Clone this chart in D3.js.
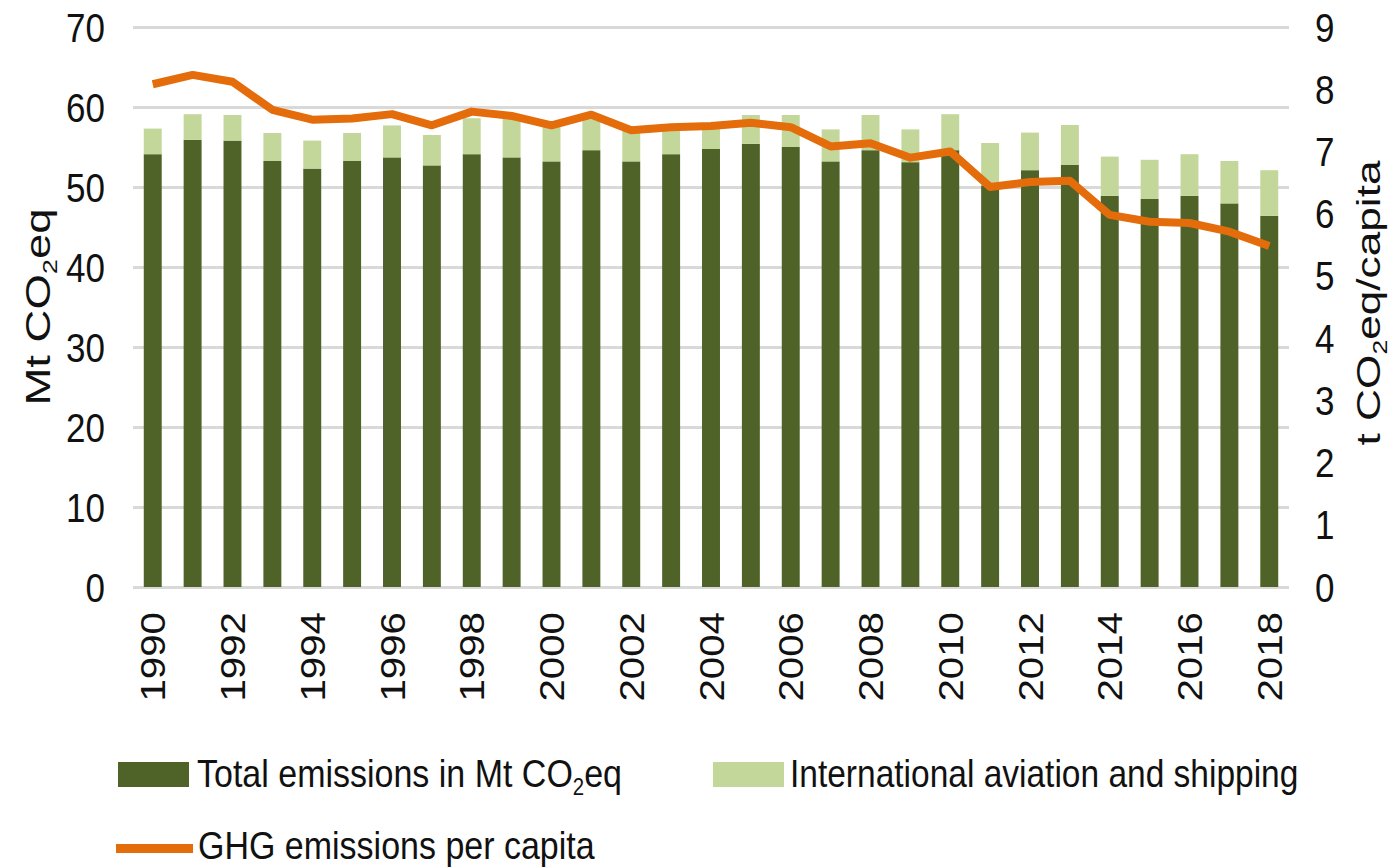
<!DOCTYPE html>
<html>
<head>
<meta charset="utf-8">
<script src="https://cdnjs.cloudflare.com/ajax/libs/d3/7.8.5/d3.min.js"></script>
<style>
    body { margin: 0; background: #fff; }
    text { font-family: "Liberation Sans", Arial, sans-serif; fill: #111; }
</style>
</head>
<body>
<div id="chart"></div>
<script>
/*
    Data
*/
var years = [1990, 1991, 1992, 1993, 1994, 1995, 1996, 1997, 1998, 1999,
    2000, 2001, 2002, 2003, 2004, 2005, 2006, 2007, 2008, 2009,
    2010, 2011, 2012, 2013, 2014, 2015, 2016, 2017, 2018];
var totalEmissions = [54.1, 55.9, 55.8, 53.25, 52.3, 53.25, 53.7, 52.7, 54.1, 53.7,
    53.2, 54.6, 53.2, 54.1, 54.75, 55.4, 55.0, 53.2, 54.6, 53.1,
    54.6, 50.2, 52.1, 52.75, 48.9, 48.5, 48.9, 47.95, 46.4];
var aviationShipping = [3.2, 3.2, 3.2, 3.5, 3.5, 3.5, 4.0, 3.8, 4.5, 4.8,
    4.4, 4.0, 3.8, 3.3, 3.0, 3.6, 4.0, 4.0, 4.4, 4.1,
    4.5, 5.3, 4.7, 5.0, 4.9, 4.9, 5.2, 5.3, 5.7];
var perCapita = [8.08, 8.23, 8.12, 7.67, 7.51, 7.53, 7.60, 7.42, 7.64, 7.57,
    7.42, 7.59, 7.34, 7.39, 7.41, 7.46, 7.39, 7.08, 7.13, 6.90,
    7.00, 6.43, 6.51, 6.53, 5.98, 5.87, 5.85, 5.71, 5.48];
var leftTicks = [0, 10, 20, 30, 40, 50, 60, 70];
var rightTicks = [0, 1, 2, 3, 4, 5, 6, 7, 8, 9];
var yearLabels = [1990, 1992, 1994, 1996, 1998, 2000, 2002, 2004, 2006, 2008,
    2010, 2012, 2014, 2016, 2018];

var width = 1391;
var height = 868;
var plot = { left: 133, right: 1289, top: 27, bottom: 587 };
var stretch = 1.15; // text in the picture is a bit taller than wide

var colors = {
    total: "#4F6228",
    aviation: "#C4D79B",
    line: "#E46C0A",
    grid: "#D9D9D9"
};

var svg = d3.select("#chart")
    .append("svg")
    .attr("width", width)
    .attr("height", height)

/*
    Scales
*/
var x = d3.scaleBand()
    .domain(years)
    .range([plot.left, plot.right])
    .paddingInner(0.55)
    .paddingOuter(0.27)

var yLeft = d3.scaleLinear()
    .domain([0, 70])
    .range([plot.bottom, plot.top])

var yRight = d3.scaleLinear()
    .domain([0, 9])
    .range([plot.bottom, plot.top])

/*
    Gridlines (drawn with the left axis, long ticks)
*/
var grid = svg.append("g")
    .attr("transform", "translate(" + plot.left + ",0)")
    .call(d3.axisLeft(yLeft)
        .tickValues(leftTicks)
        .tickSize(-(plot.right - plot.left))
        .tickFormat(""))
grid.select(".domain").remove()
grid.selectAll("line")
    .attr("stroke", colors.grid)
    .attr("stroke-width", 3)

/*
    Stacked bars
*/
var rows = years.map(function (y, i) {
    return { year: y, total: totalEmissions[i], aviation: aviationShipping[i] };
})
var stack = d3.stack().keys(["total", "aviation"])(rows)

svg.append("g")
    .selectAll("g")
    .data(stack)
    .enter().append("g")
    .attr("fill", function (d) { return colors[d.key]; })
    .selectAll("rect")
    .data(function (d) { return d; })
    .enter().append("rect")
    .attr("x", function (d) { return x(d.data.year); })
    .attr("width", x.bandwidth())
    .attr("y", function (d) { return yLeft(d[1]); })
    .attr("height", function (d) { return yLeft(d[0]) - yLeft(d[1]); })

/*
    Per capita line on the right scale
*/
var line = d3.line()
    .x(function (d, i) { return x(years[i]) + x.bandwidth() / 2; })
    .y(function (d) { return yRight(d); })

svg.append("path")
    .datum(perCapita)
    .attr("d", line)
    .attr("fill", "none")
    .attr("stroke", colors.line)
    .attr("stroke-width", 8)
    .attr("stroke-linejoin", "round")
    .attr("stroke-linecap", "butt")

/*
    Axes: only labels are shown
*/
var leftAxis = svg.append("g")
    .attr("transform", "translate(" + plot.left + ",0)")
    .call(d3.axisLeft(yLeft).tickValues(leftTicks).tickSize(0))
leftAxis.select(".domain").remove()
leftAxis.selectAll("text")
    .attr("x", null).attr("dy", null)
    .attr("text-anchor", "end")
    .attr("font-size", 35)
    .attr("transform", "translate(-28,14) scale(1," + stretch + ")")

var rightAxis = svg.append("g")
    .attr("transform", "translate(" + plot.right + ",0)")
    .call(d3.axisRight(yRight).tickValues(rightTicks).tickSize(0))
rightAxis.select(".domain").remove()
rightAxis.selectAll("text")
    .attr("x", null).attr("dy", null)
    .attr("text-anchor", "start")
    .attr("font-size", 35)
    .attr("transform", "translate(26,14) scale(1," + stretch + ")")

var bottomAxis = svg.append("g")
    .attr("transform", "translate(0," + plot.bottom + ")")
    .call(d3.axisBottom(x).tickValues(yearLabels).tickSize(0))
bottomAxis.select(".domain").remove()
bottomAxis.selectAll("text")
    .attr("y", null).attr("dy", "0.36em")
    .attr("text-anchor", "end")
    .attr("font-size", 35)
    .attr("transform", "translate(0,25) scale(1," + stretch + ") rotate(-90)")

/*
    Axis titles with subscript 2
*/
function co2Text(g, before, after, size) {
    var t = g.append("text")
        .attr("text-anchor", "middle")
        .attr("font-size", size)
    t.append("tspan").text(before + "CO")
    t.append("tspan").text("2")
        .attr("font-size", size * 0.6)
        .attr("dy", size * 0.2)
    t.append("tspan").text(after)
        .attr("dy", -size * 0.2)
    return t;
}

var leftTitle = svg.append("g")
    .attr("transform", "translate(50,307) scale(1," + 1.3 + ") rotate(-90)")
co2Text(leftTitle, "Mt ", "eq", 35)

var rightTitle = svg.append("g")
    .attr("transform", "translate(1380,303) scale(1," + 1.3 + ") rotate(-90)")
co2Text(rightTitle, "t ", "eq/capita", 34)

/*
    Legend
*/
var legend = svg.append("g")

legend.append("rect")
    .attr("x", 118).attr("y", 762)
    .attr("width", 71).attr("height", 25)
    .attr("fill", colors.total)
var l1 = legend.append("g")
    .attr("transform", "translate(197,787) scale(1," + stretch + ")")
co2Text(l1, "Total emissions in Mt ", "eq", 34).attr("text-anchor", "start")

legend.append("rect")
    .attr("x", 713).attr("y", 762)
    .attr("width", 71).attr("height", 25)
    .attr("fill", colors.aviation)
legend.append("text")
    .attr("font-size", 33.5)
    .attr("transform", "translate(790,787) scale(1," + stretch + ")")
    .text("International aviation and shipping")

legend.append("line")
    .attr("x1", 116).attr("x2", 193)
    .attr("y1", 848.5).attr("y2", 848.5)
    .attr("stroke", colors.line)
    .attr("stroke-width", 9)
legend.append("text")
    .attr("font-size", 34)
    .attr("transform", "translate(198,859) scale(1," + stretch + ")")
    .text("GHG emissions per capita")
</script>
</body>
</html>
